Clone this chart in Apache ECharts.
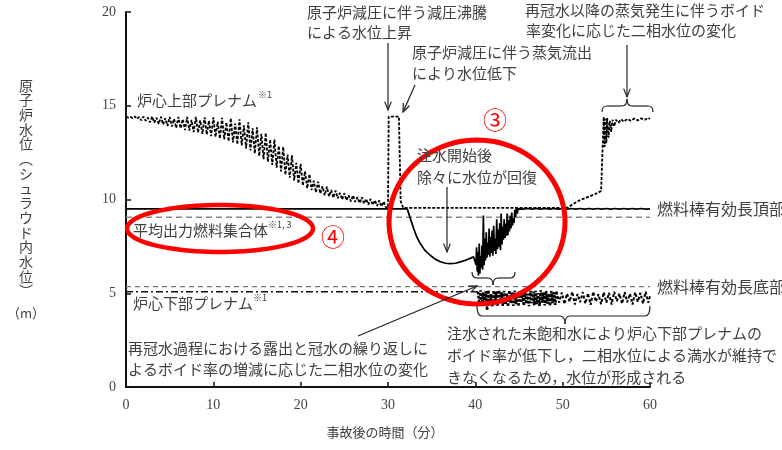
<!DOCTYPE html>
<html>
<head>
<meta charset="utf-8">
<script src="https://cdn.jsdelivr.net/npm/echarts@6/dist/echarts.min.js"></script>
<style>
html,body{margin:0;padding:0;background:#fff}
#chart{width:782px;height:450px}
</style>
</head>
<body>
<div id="chart"></div>
<script>
// Axis ticks (minutes after the accident / water level in m)
const timeTicks = [0, 10, 20, 30, 40, 50, 60];
const levelTicks = [0, 5, 10, 15, 20];

// Reference elevations (m)
const fuelTopLevel = 9.05;      // top of active fuel
const fuelBottomLevel = 5.35;   // bottom of active fuel

// Upper plenum two-phase level [min, m]
const upperPlenum = [
  [0,14.42],[0.25,14.37],[0.5,14.41],[0.75,14.33],[1,14.43],[1.25,14.30],[1.5,14.40],[1.75,14.22],
  [2,14.42],[2.25,14.20],[2.5,14.37],[2.75,14.12],[3,14.42],[3.25,14.10],[3.5,14.36],[3.75,14.03],
  [4,14.41],[4.25,14.00],[4.5,14.33],[4.75,13.92],[5,14.40],[5.25,13.90],[5.5,14.30],[5.75,13.82],
  [6,14.40],[6.25,13.80],[6.5,14.28],[6.75,13.70],[7,14.40],[7.25,13.68],[7.5,14.25],[7.75,13.60],
  [8,14.40],[8.25,13.57],[8.5,14.22],[8.75,13.50],[9,14.38],[9.25,13.47],[9.5,14.20],[9.75,13.38],
  [10,14.38],[10.25,13.34],[10.5,14.15],[10.75,13.25],[11,14.36],[11.25,13.20],[11.5,14.10],[11.75,13.10],
  [12,14.33],[12.25,13.04],[12.5,14.05],[12.75,12.94],[13,14.28],[13.25,12.88],[13.5,13.95],[13.75,12.72],
  [14,14.12],[14.25,12.62],[14.5,13.80],[14.75,12.45],[15,13.85],[15.25,12.32],[15.5,13.50],[15.75,12.15],
  [16,13.55],[16.25,12.02],[16.5,13.20],[16.75,11.84],[17,13.20],[17.25,11.70],[17.5,12.85],[17.75,11.50],
  [18,12.80],[18.25,11.32],[18.5,12.40],[18.75,11.16],[19,12.35],[19.25,11.02],[19.5,11.95],[19.75,10.86],
  [20,11.90],[20.25,10.74],[20.5,11.50],[20.75,10.60],[21,11.35],[21.25,10.50],[21.5,11.00],[21.75,10.38],
  [22,10.95],[22.25,10.32],[22.5,10.70],[22.75,10.22],[23,10.68],[23.25,10.17],[23.5,10.50],[23.75,10.10],
  [24,10.48],[24.25,10.06],[24.5,10.35],[24.75,10.00],[25,10.33],[25.25,9.96],[25.5,10.22],[25.75,9.90],
  [26,10.22],[26.25,9.87],[26.5,10.12],[26.75,9.81],[27,10.12],[27.25,9.78],[27.5,10.03],[27.75,9.73],
  [28,10.03],[28.25,9.71],[28.5,9.95],[28.75,9.66],[29,9.95],[29.25,9.63],[29.5,9.88],[29.75,9.59],
  [30,9.56],
  [30.08,14.42],[31.25,14.42],[31.45,9.9],[31.75,9.55],[50.5,9.55],
  [51.0,9.70],[51.5,9.84],[52.0,9.97],[52.5,10.06],[53.0,10.15],[53.5,10.25],[54.0,10.35],
  [54.4,10.45],[54.6,10.55],[54.7,14.40],[54.8,12.80],[54.9,14.30],[55.0,13.00],[55.1,14.35],
  [55.25,13.30],[55.4,14.20],[55.55,13.60],[55.7,14.25],[55.9,13.90],[56.1,14.25],[56.4,14.10],
  [56.7,14.28],[57,14.15],[57.4,14.30],[57.8,14.20],[58.2,14.32],[58.6,14.22],[59,14.33],
  [59.4,14.25],[59.8,14.35],[60,14.30]
];

// Average power fuel assembly level [min, m]
const avgFuelAssembly = [
  [0,9.5],[32.2,9.5],[32.4,9.4],[32.9,8.5],[33.3,8.0],[33.7,7.65],[34.2,7.3],[34.8,7.04],
  [35.4,6.82],[36.0,6.68],[36.6,6.6],[37.1,6.58],[37.7,6.6],[38.2,6.66],[38.8,6.75],[39.4,6.86],
  [39.8,6.95],[40.0,7.05],[40.08,6.5],[40.14,7.45],[40.22,6.15],[40.3,7.2],[40.36,5.95],[40.45,7.65],
  [40.52,6.05],[40.6,7.0],[40.68,6.35],[40.76,7.55],[40.84,6.25],[40.92,9.15],[41.0,6.5],[41.08,7.9],
  [41.16,6.75],[41.25,8.25],[41.33,6.9],[41.42,7.7],[41.5,7.05],[41.58,8.45],[41.66,6.95],[41.75,8.0],
  [41.84,7.15],[41.92,8.35],[42.0,7.0],[42.1,8.6],[42.18,7.25],[42.27,7.9],[42.35,7.1],[42.45,8.95],
  [42.53,7.35],[42.62,8.4],[42.7,7.45],[42.8,8.75],[42.88,7.3],[42.96,9.25],[43.05,7.6],[43.13,8.55],
  [43.22,7.85],[43.3,8.95],[43.4,7.95],[43.48,8.7],[43.56,8.05],[43.65,9.25],[43.73,8.1],[43.82,8.9],
  [43.9,8.3],[44.0,9.15],[44.08,8.45],[44.17,9.3],[44.25,8.6],[44.35,9.0],[44.43,8.75],[44.52,9.45],
  [44.6,9.05],[44.7,9.55],[44.8,9.25],[44.9,9.5],[45.0,9.4],[45.1,9.52],
  [45.5,9.49],[46,9.52],[46.5,9.49],[47,9.52],[47.5,9.49],[48,9.52],[48.5,9.49],[49,9.52],
  [49.5,9.49],[50,9.52],[50.5,9.49],[51,9.52],[51.5,9.49],[52,9.52],[52.5,9.49],[53,9.52],
  [53.5,9.49],[54,9.52],[54.5,9.49],[55,9.52],[55.5,9.49],[56,9.52],[56.5,9.49],[57,9.52],
  [57.5,9.49],[58,9.52],[58.5,9.49],[59,9.52],[59.5,9.49],[60,9.5]
];

// Lower plenum level: full until flooding, then two-phase [min, m]
const lowerPlenumFull = [[0,5.08],[40.3,5.08]];
const lowerPlenumDense = [
  [40.30,5.08],[40.45,4.45],[40.60,5.15],[40.75,4.32],[40.90,5.05],[41.05,4.50],[41.20,5.12],[41.35,4.10],
  [41.50,5.16],[41.65,4.35],[41.80,4.95],[41.95,4.28],[42.10,5.14],[42.25,4.45],[42.40,5.10],[42.55,4.30],
  [42.70,5.16],[42.85,4.55],[43.00,5.05],[43.15,4.32],[43.30,5.13],[43.45,4.40],[43.60,4.98],[43.75,4.29],
  [43.90,5.15],[44.05,4.48],[44.20,5.08],[44.35,4.33],[44.50,5.14],[44.65,4.42],[44.80,5.02],[44.95,4.30],
  [45.10,5.15],[45.25,4.50],[45.40,5.06],[45.55,4.34],[45.70,5.12],[45.85,4.44],[46.00,4.96],[46.15,4.31],
  [46.30,5.14],[46.45,4.47],[46.60,5.08],[46.75,4.36],[46.90,5.13],[47.05,4.42],[47.20,5.00],[47.35,4.32],
  [47.50,5.15],[47.65,4.50],[47.80,5.05],[47.95,4.35],[48.10,5.12],[48.25,4.45],[48.40,4.98],[48.55,4.33],
  [48.70,5.12],[48.85,4.48],[49.00,5.06],[49.15,4.38],[49.30,5.10]
];
const lowerPlenumSparse = [
  [49.30,5.10],[49.60,4.50],[49.90,5.04],[50.20,4.42],[50.50,4.98],[50.80,4.55],[51.10,5.08],[51.40,4.40],
  [51.70,4.96],[52.00,4.52],[52.30,5.06],[52.60,4.45],[52.90,5.00],[53.20,4.38],[53.50,5.08],[53.80,4.55],
  [54.10,4.95],[54.40,4.42],[54.70,5.05],[55.00,4.50],[55.30,5.02],[55.60,4.40],[55.90,5.08],[56.20,4.58],
  [56.50,4.98],[56.80,4.44],[57.10,5.06],[57.40,4.52],[57.70,4.97],[58.00,4.40],[58.30,5.05],[58.60,4.55],
  [58.90,5.02],[59.20,4.45],[59.50,5.08],[59.80,4.50],[60.00,4.85]
];

const TXT = '#404040';
const CJK = '"Noto Sans CJK JP", sans-serif';
const SERIF = '"Liberation Serif", "DejaVu Serif", serif';

function text(x, y, s, size, color, align) {
  return {
    type: 'text', x: x, y: y, silent: true, z: 100,
    style: { text: s, fill: color || TXT, font: (size || 15) + 'px ' + CJK,
             align: align || 'left', verticalAlign: 'middle' }
  };
}
const INK = { stroke: '#222', lineWidth: 1.2, fill: null };
function arrow(x1, y1, x2, y2) {
  const a = Math.atan2(y2 - y1, x2 - x1), L = 9, w = 0.38;
  return [
    { type: 'line', silent: true, z: 100, shape: { x1: x1, y1: y1, x2: x2, y2: y2 }, style: INK },
    { type: 'polyline', silent: true, z: 100,
      shape: { points: [[x2 - L * Math.cos(a - w), y2 - L * Math.sin(a - w)], [x2, y2],
                        [x2 - L * Math.cos(a + w), y2 - L * Math.sin(a + w)]] },
      style: INK }
  ];
}
// Horizontal curly brace: ends at yE, bar at yL, tip at yT (centre xm)
function brace(x1, x2, xm, yE, yL, yT) {
  const r = 5;
  const q = (ax, ay, cx, cy, bx, by) => ({ type: 'bezierCurve', silent: true, z: 100,
    shape: { x1: ax, y1: ay, cpx1: cx, cpy1: cy, x2: bx, y2: by }, style: INK });
  const l = (ax, ay, bx, by) => ({ type: 'line', silent: true, z: 100,
    shape: { x1: ax, y1: ay, x2: bx, y2: by }, style: INK });
  return [
    q(x1, yE, x1, yL, x1 + r, yL), l(x1 + r, yL, xm - r, yL),
    q(xm - r, yL, xm, yL, xm, yT), q(xm, yT, xm, yL, xm + r, yL),
    l(xm + r, yL, x2 - r, yL), q(x2 - r, yL, x2, yL, x2, yE)
  ];
}
// Highlight ring around a region of interest
function ring(cx, cy, rx, ry, width) {
  const pts = [];
  for (let i = 0; i < 96; i++) {
    const t = i / 96 * Math.PI * 2;
    pts.push([cx + rx * Math.cos(t), cy + ry * Math.sin(t)]);
  }
  return { type: 'polygon', silent: true, z: 90, shape: { points: pts },
           style: { fill: null, stroke: '#ff0000', lineWidth: width } };
}

const yTitle = '原子炉水位︵シュラウド内水位︶'.split('').join('\n');

const graphics = [
  { type: 'text', x: 26, y: 78, silent: true,
    style: { text: yTitle, fill: TXT, font: '14px ' + CJK, align: 'center',
             verticalAlign: 'top', lineHeight: 14.7 } },
  text(26, 313, '（m）', 13, TXT, 'center'),
  text(385, 432, '事故後の時間（分）', 13, TXT, 'center'),

  // level labels
  text(137, 100, '炉心上部プレナム'),
  text(258, 95, '※1', 9),
  text(133, 230, '平均出力燃料集合体'),
  text(268, 225, '※1, 3', 9),
  text(133, 303, '炉心下部プレナム'),
  text(253, 298, '※1', 9),
  text(657, 209, '燃料棒有効長頂部', 16),
  text(657, 287, '燃料棒有効長底部', 16),

  // annotations
  text(307, 12, '原子炉減圧に伴う減圧沸騰'),
  text(307, 32, 'による水位上昇'),
  text(412, 52, '原子炉減圧に伴う蒸気流出'),
  text(412, 73, 'により水位低下'),
  text(525, 10, '再冠水以降の蒸気発生に伴うボイド'),
  text(526, 30, '率変化に応じた二相水位の変化'),
  text(417, 155, '注水開始後'),
  text(417, 177, '除々に水位が回復'),
  text(128, 348, '再冠水過程における露出と冠水の繰り返しに'),
  text(128, 369, 'よるボイド率の増減に応じた二相水位の変化'),
  text(447, 333, '注水された未飽和水により炉心下部プレナムの'),
  text(447, 355, 'ボイド率が低下し，二相水位による満水が維持で'),
  text(447, 377, 'きなくなるため，水位が形成される'),

  ...arrow(388, 43, 388, 110),
  ...arrow(415, 85, 403, 112),
  ...arrow(447, 187, 447, 252),
  ...arrow(627, 45, 627, 97),
  ...arrow(358, 336, 477, 286),

  ...brace(602, 653, 627, 112, 106, 99),
  ...brace(472, 515, 493, 272, 278, 285),
  ...brace(477, 650, 565, 306, 316, 324),

  // highlight marks
  ring(220, 228.5, 93, 23.5, 4.5),
  text(333, 237, '④', 24, '#ff0000', 'center'),
  ring(477, 222, 88, 82, 5),
  text(495, 120, '③', 24, '#ff0000', 'center')
];

function levelLine(v) {
  return [[timeTicks[0], v], [timeTicks[timeTicks.length - 1], v]];
}

const chart = echarts.init(document.getElementById('chart'), null, { renderer: 'canvas' });
chart.setOption({
  animation: false,
  backgroundColor: '#fff',
  grid: { left: 126, right: 132, top: 12, bottom: 63, outerBoundsMode: 'none' },
  xAxis: {
    type: 'value', min: timeTicks[0], max: timeTicks[timeTicks.length - 1],
    interval: timeTicks[1] - timeTicks[0],
    axisLine: { lineStyle: { color: '#111', width: 2 } },
    axisTick: { inside: true, length: 5, lineStyle: { color: '#111', width: 1.5 } },
    axisLabel: { margin: 11, color: '#444', fontSize: 14, fontFamily: SERIF },
    splitLine: { show: false }
  },
  yAxis: {
    type: 'value', min: levelTicks[0], max: levelTicks[levelTicks.length - 1],
    interval: levelTicks[1] - levelTicks[0],
    axisLine: { show: true, lineStyle: { color: '#111', width: 2 } },
    axisTick: { show: true, inside: true, length: 5, lineStyle: { color: '#111', width: 1.5 } },
    axisLabel: { margin: 10, color: '#444', fontSize: 14, fontFamily: SERIF },
    splitLine: { show: false }
  },
  series: [
    { type: 'line', name: '燃料棒有効長頂部', data: levelLine(fuelTopLevel), showSymbol: false, silent: true,
      lineStyle: { color: '#888', width: 1.5, type: [6, 4] } },
    { type: 'line', name: '燃料棒有効長底部', data: levelLine(fuelBottomLevel), showSymbol: false, silent: true,
      lineStyle: { color: '#777', width: 1.3, type: [5, 4] } },
    { type: 'line', name: '炉心下部プレナム', data: lowerPlenumFull, showSymbol: false, silent: true,
      lineStyle: { color: '#111', width: 1.5, type: [7, 3, 2, 3] } },
    { type: 'line', name: '炉心下部プレナム二相', data: lowerPlenumDense, showSymbol: false, silent: true,
      lineStyle: { color: '#000', width: 2.6, type: [2.5, 1.5] } },
    { type: 'line', name: '炉心下部プレナム二相', data: lowerPlenumSparse, showSymbol: false, silent: true,
      lineStyle: { color: '#000', width: 2.0, type: [3, 2] } },
    { type: 'line', name: '平均出力燃料集合体', data: avgFuelAssembly, showSymbol: false, silent: true,
      lineStyle: { color: '#000', width: 1.7 } },
    { type: 'line', name: '炉心上部プレナム', data: upperPlenum, showSymbol: false, silent: true,
      lineStyle: { color: '#000', width: 1.8, type: [3, 1.6] } }
  ],
  graphic: graphics
});
</script>
</body>
</html>
